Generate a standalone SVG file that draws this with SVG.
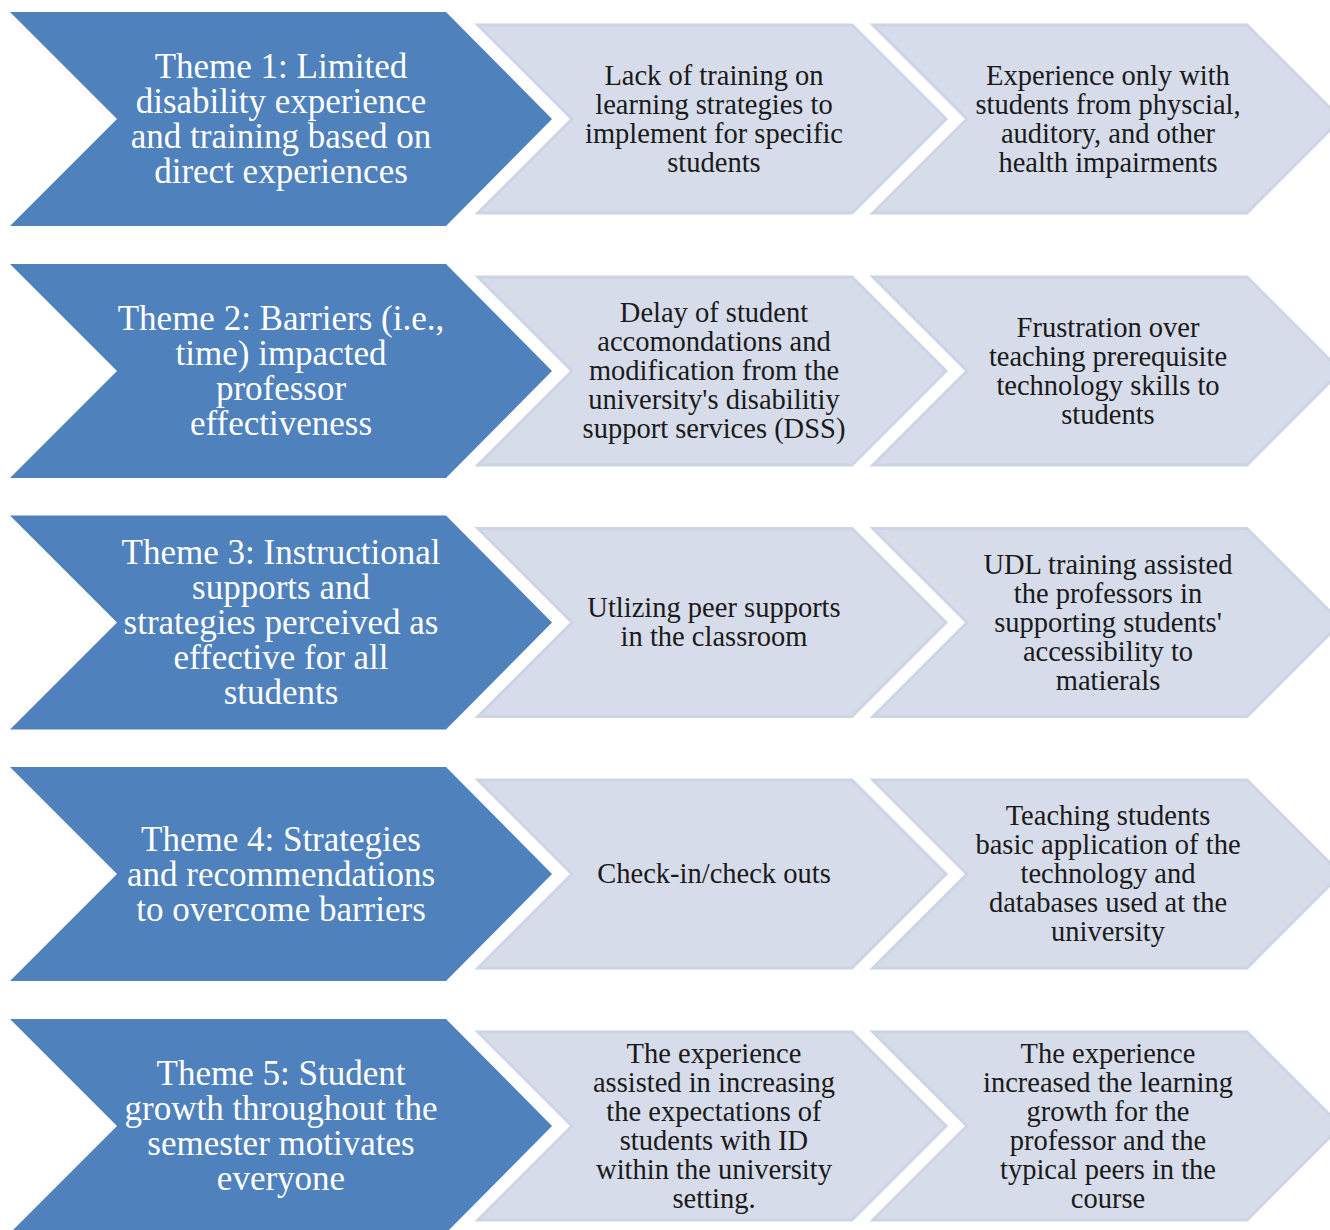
<svg xmlns="http://www.w3.org/2000/svg" width="1330" height="1230" viewBox="0 0 1330 1230">
<style>
.theme{fill:#4f81bd}
.item{fill:#d6dce9;stroke:#cdd4e5;stroke-width:3;stroke-linejoin:miter}
.tt{font-family:"Liberation Serif","DejaVu Serif",serif;font-size:35px;fill:#ffffff;text-anchor:middle}
.it{font-family:"Liberation Serif","DejaVu Serif",serif;font-size:28.5px;fill:#1a1a1a;text-anchor:middle}
</style>
<defs>
<path id="blue" d="M10,-107 L446,-107 L552,0 L446,107 L10,107 L117,0 Z"/>
<path id="light" d="M0,-94 L374,-94 L468,0 L374,94 L0,94 L94,0 Z"/>
</defs>
<rect width="1330" height="1230" fill="#ffffff"/>
<g id="connectors"></g>

<!-- Row 1 (cy=119) -->
<g id="theme1" transform="translate(0,119)">
<use href="#blue" class="theme"/>
<text class="tt"><tspan x="281" y="-41">Theme 1: Limited</tspan><tspan x="281" y="-6">disability experience</tspan><tspan x="281" y="29">and training based on</tspan><tspan x="281" y="64">direct experiences</tspan></text>
</g>
<g id="t1a" transform="translate(478,119)">
<use href="#light" class="item"/>
<text class="it"><tspan x="236" y="-34.1">Lack of training on</tspan><tspan x="236" y="-5.1">learning strategies to</tspan><tspan x="236" y="23.9">implement for specific</tspan><tspan x="236" y="52.9">students</tspan></text>
</g>
<g id="t1b" transform="translate(873,119)">
<use href="#light" class="item"/>
<text class="it"><tspan x="235" y="-34.1">Experience only with</tspan><tspan x="235" y="-5.1">students from physcial,</tspan><tspan x="235" y="23.9">auditory, and other</tspan><tspan x="235" y="52.9">health impairments</tspan></text>
</g>

<!-- Row 2 (cy=371) -->
<g id="theme2" transform="translate(0,371)">
<use href="#blue" class="theme"/>
<text class="tt"><tspan x="281" y="-41">Theme 2: Barriers (i.e.,</tspan><tspan x="281" y="-6">time) impacted</tspan><tspan x="281" y="29">professor</tspan><tspan x="281" y="64">effectiveness</tspan></text>
</g>
<g id="t2a" transform="translate(478,371)">
<use href="#light" class="item"/>
<text class="it"><tspan x="236" y="-48.6">Delay of student</tspan><tspan x="236" y="-19.6">accomondations and</tspan><tspan x="236" y="9.4">modification from the</tspan><tspan x="236" y="38.4">university's disabilitiy</tspan><tspan x="236" y="67.4">support services (DSS)</tspan></text>
</g>
<g id="t2b" transform="translate(873,371)">
<use href="#light" class="item"/>
<text class="it"><tspan x="235" y="-34.1">Frustration over</tspan><tspan x="235" y="-5.1">teaching prerequisite</tspan><tspan x="235" y="23.9">technology skills to</tspan><tspan x="235" y="52.9">students</tspan></text>
</g>

<!-- Row 3 (cy=622.5) -->
<g id="theme3" transform="translate(0,622.5)">
<use href="#blue" class="theme"/>
<text class="tt"><tspan x="281" y="-58.5">Theme 3: Instructional</tspan><tspan x="281" y="-23.5">supports and</tspan><tspan x="281" y="11.5">strategies perceived as</tspan><tspan x="281" y="46.5">effective for all</tspan><tspan x="281" y="81.5">students</tspan></text>
</g>
<g id="t3a" transform="translate(478,622.5)">
<use href="#light" class="item"/>
<text class="it"><tspan x="236" y="-5.1">Utlizing peer supports</tspan><tspan x="236" y="23.9">in the classroom</tspan></text>
</g>
<g id="t3b" transform="translate(873,622.5)">
<use href="#light" class="item"/>
<text class="it"><tspan x="235" y="-48.6">UDL training assisted</tspan><tspan x="235" y="-19.6">the professors in</tspan><tspan x="235" y="9.4">supporting students'</tspan><tspan x="235" y="38.4">accessibility to</tspan><tspan x="235" y="67.4">matierals</tspan></text>
</g>

<!-- Row 4 (cy=874) -->
<g id="theme4" transform="translate(0,874)">
<use href="#blue" class="theme"/>
<text class="tt"><tspan x="281" y="-23.5">Theme 4: Strategies</tspan><tspan x="281" y="11.5">and recommendations</tspan><tspan x="281" y="46.5">to overcome barriers</tspan></text>
</g>
<g id="t4a" transform="translate(478,874)">
<use href="#light" class="item"/>
<text class="it"><tspan x="236" y="9.4">Check-in/check outs</tspan></text>
</g>
<g id="t4b" transform="translate(873,874)">
<use href="#light" class="item"/>
<text class="it"><tspan x="235" y="-48.6">Teaching students</tspan><tspan x="235" y="-19.6">basic application of the</tspan><tspan x="235" y="9.4">technology and</tspan><tspan x="235" y="38.4">databases used at the</tspan><tspan x="235" y="67.4">university</tspan></text>
</g>

<!-- Row 5 (cy=1126) -->
<g id="theme5" transform="translate(0,1126)">
<use href="#blue" class="theme"/>
<text class="tt"><tspan x="281" y="-41">Theme 5: Student</tspan><tspan x="281" y="-6">growth throughout the</tspan><tspan x="281" y="29">semester motivates</tspan><tspan x="281" y="64">everyone</tspan></text>
</g>
<g id="t5a" transform="translate(478,1126)">
<use href="#light" class="item"/>
<text class="it"><tspan x="236" y="-63.1">The experience</tspan><tspan x="236" y="-34.1">assisted in increasing</tspan><tspan x="236" y="-5.1">the expectations of</tspan><tspan x="236" y="23.9">students with ID</tspan><tspan x="236" y="52.9">within the university</tspan><tspan x="236" y="81.9">setting.</tspan></text>
</g>
<g id="t5b" transform="translate(873,1126)">
<use href="#light" class="item"/>
<text class="it"><tspan x="235" y="-63.1">The experience</tspan><tspan x="235" y="-34.1">increased the learning</tspan><tspan x="235" y="-5.1">growth for the</tspan><tspan x="235" y="23.9">professor and the</tspan><tspan x="235" y="52.9">typical peers in the</tspan><tspan x="235" y="81.9">course</tspan></text>
</g>
</svg>
